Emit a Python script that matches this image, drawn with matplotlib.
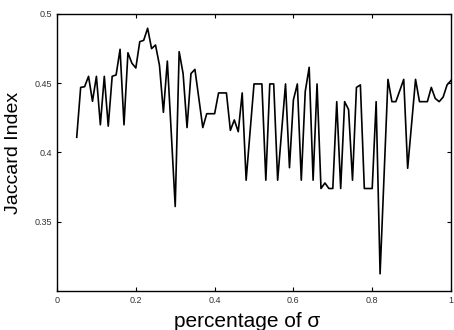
import matplotlib
matplotlib.use("Agg")
import matplotlib.pyplot as plt
import numpy as np

plt.rcParams['font.family'] = ['Liberation Sans', 'DejaVu Sans']

# fraction of sigma (0.05 .. 1.00)
pct = np.round(np.arange(5, 101) / 100.0, 2)

jaccard = [
    0.411, 0.447, 0.4475, 0.455, 0.437, 0.455, 0.420, 0.455, 0.419, 0.455,
    0.456, 0.4745, 0.420, 0.472, 0.4645, 0.461, 0.480, 0.481, 0.4897, 0.475,
    0.4776, 0.463, 0.429, 0.466, 0.414, 0.361, 0.4728, 0.457, 0.418, 0.457,
    0.460, 0.439, 0.418, 0.428, 0.428, 0.428, 0.443, 0.443, 0.443, 0.416,
    0.4235, 0.415, 0.443, 0.380, 0.415, 0.4495, 0.4495, 0.4495, 0.380, 0.4495,
    0.4495, 0.380, 0.415, 0.4495, 0.389, 0.438, 0.4495, 0.380, 0.444, 0.4615,
    0.380, 0.4495, 0.374, 0.378, 0.374, 0.374, 0.4367, 0.374, 0.4367, 0.431,
    0.380, 0.447, 0.4488, 0.374, 0.374, 0.374, 0.4367, 0.3124, 0.3826, 0.4528,
    0.4367, 0.4367, 0.4447, 0.4528, 0.3886, 0.4207, 0.4528, 0.4367, 0.4367, 0.4367,
    0.447, 0.439, 0.4367, 0.440, 0.4488, 0.452,
]

xticks = [0, 0.2, 0.4, 0.6, 0.8, 1]
xticklabels = ['0', '0.2', '0.4', '0.6', '0.8', '1']
yticks = [0.35, 0.4, 0.45, 0.5]
yticklabels = ['0.35', '0.4', '0.45', '0.5']

fig = plt.figure(figsize=(4.54, 3.30), dpi=100)
ax = fig.add_axes([0.1256, 0.1182, 0.8678, 0.8394])

ax.plot(pct, jaccard, color='black', linewidth=1.2)

ax.set_xlim(0, 1)
ax.set_ylim(0.3, 0.5)
ax.set_xticks(xticks)
ax.set_xticklabels(xticklabels)
ax.set_yticks(yticks)
ax.set_yticklabels(yticklabels)
ax.tick_params(direction='in', length=3, width=0.8, labelsize=6.5,
               labelcolor='#333333', top=True, right=True)
for sp in ax.spines.values():
    sp.set_linewidth(1.0)

ax.set_xlabel('percentage of σ', fontsize=15, labelpad=2)
ax.xaxis.set_label_coords(0.482, -0.075)
ax.set_ylabel('Jaccard Index', fontsize=14, labelpad=9)

fig.savefig('out.png', dpi=100)
